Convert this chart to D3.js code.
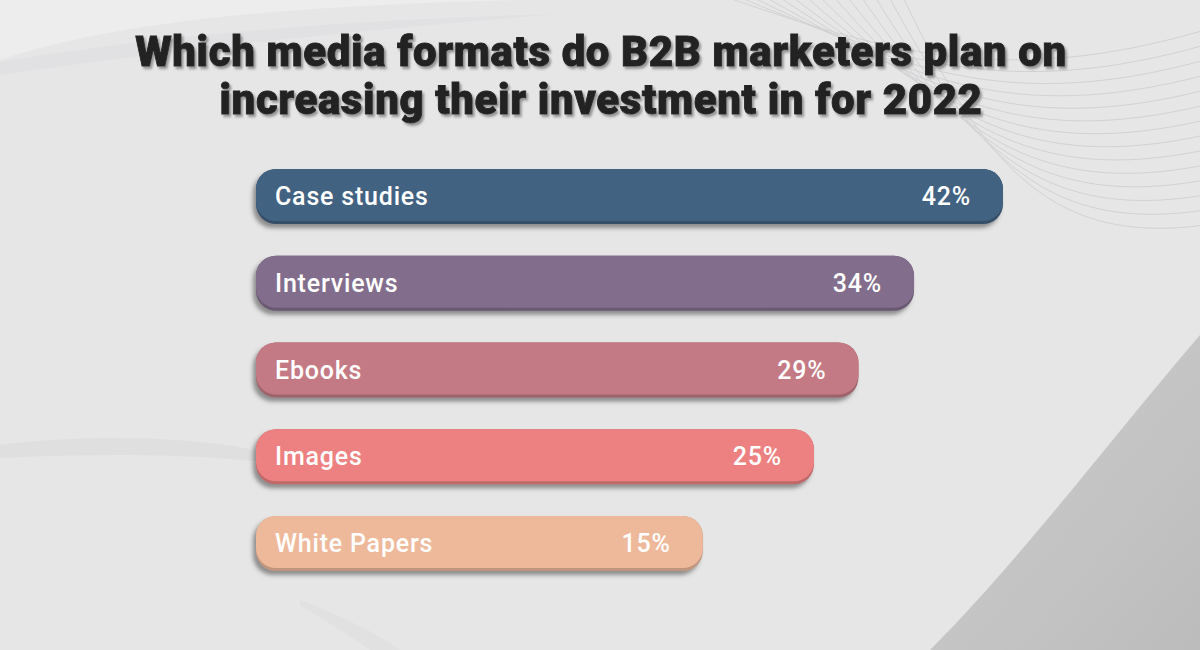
<!DOCTYPE html>
<html>
<head>
<meta charset="utf-8">
<script src="https://cdn.jsdelivr.net/npm/d3@7"></script>
<style>
html,body{margin:0;padding:0;background:#e7e6e7;}
svg{display:block;}
</style>
</head>
<body>
<svg id="chart" width="1200" height="650"></svg>
<script>
const categories = ["Case studies", "Interviews", "Ebooks", "Images", "White Papers"];
const values = [42, 34, 29, 25, 15];
const colors = ["#426282", "#826e8c", "#c47a84", "#ed8080", "#eeb99b"];
const titleLines = ["Which media formats do B2B marketers plan on", "increasing their investment in for 2022"];

const W = 1200, H = 650;
const svg = d3.select("#chart");
const defs = svg.append("defs");

// filters
const fb = defs.append("filter").attr("id","barShadow").attr("x","-10%").attr("y","-30%").attr("width","120%").attr("height","170%");
fb.append("feDropShadow").attr("dx",-3).attr("dy",4).attr("stdDeviation",2).attr("flood-color","#444").attr("flood-opacity",0.55);
const ft = defs.append("filter").attr("id","titleShadow").attr("x","-5%").attr("y","-30%").attr("width","110%").attr("height","160%");
ft.append("feDropShadow").attr("dx",2).attr("dy",2.5).attr("stdDeviation",1.2).attr("flood-color","#8a8a8a").attr("flood-opacity",0.9);

// background
svg.append("rect").attr("width",W).attr("height",H).attr("fill","#e7e6e7");
const grad = defs.append("linearGradient").attr("id","brg").attr("x1","0").attr("y1","0").attr("x2","1").attr("y2","1");
grad.append("stop").attr("offset","0").attr("stop-color","#cfcecf");
grad.append("stop").attr("offset","1").attr("stop-color","#bdbcbd");
svg.append("path")
  .attr("d","M1200,335 C1110,440 1020,560 930,650 L1200,650 Z")
  .attr("fill","url(#brg)");
// top-left lighter swooshes
svg.append("path").attr("d","M0,60 C120,20 300,5 520,0 L0,0 Z").attr("fill","#ededed");
svg.append("path").attr("d","M0,62 C160,35 340,20 560,14 C360,30 170,50 0,75 Z").attr("fill","#dedddf").attr("opacity",0.7);
// faint bottom-left swoosh
svg.append("path").attr("d","M0,445 C120,430 260,440 320,470 C240,455 120,452 0,458 Z").attr("fill","#dcdbdc").attr("opacity",0.7);
svg.append("path").attr("d","M300,600 C340,615 380,635 400,650 L370,650 C350,635 320,618 300,605 Z").attr("fill","#dedddf").attr("opacity",0.6);
// top-right thin curved lines
const lines = svg.append("g").attr("fill","none").attr("stroke","#d2d1d3").attr("stroke-width",1);
for (let i = 0; i < 14; i++) {
  lines.append("path").attr("d",
    `M${720 + i*14},-5 C${880 + i*8},${50 + i*9} ${1000 + i*4},${90 + i*12} 1205,${30 + i*15}`);
}

// scales
const x0 = 256;
const x = d3.scaleLinear().domain([0, 42]).range([536, 1003]);
const y = d3.scalePoint().domain(categories).range([169, 516]);
const bh = 55;

const data = categories.map((c, i) => ({cat: c, v: values[i], col: colors[i]}));

const g = svg.append("g");
const bars = g.selectAll("g.bar").data(data).join("g").attr("class","bar");

bars.append("rect")
  .attr("x", x0).attr("y", d => y(d.cat))
  .attr("width", d => x(d.v) - x0).attr("height", bh)
  .attr("rx", 20).attr("ry", 20)
  .attr("fill", d => d3.color(d.col).darker(0.6))
  .attr("filter","url(#barShadow)");
bars.append("rect")
  .attr("x", x0).attr("y", d => y(d.cat))
  .attr("width", d => x(d.v) - x0).attr("height", bh - 3)
  .attr("rx", 20).attr("ry", 20)
  .attr("fill", d => d.col);

bars.append("text")
  .attr("x", x0 + 19).attr("y", d => y(d.cat) + bh/2 + 2)
  .attr("dominant-baseline","middle")
  .attr("fill","#fff").attr("font-family","Roboto, sans-serif").attr("font-weight",500).attr("font-size",25)
  .attr("letter-spacing",0.8)
  .text(d => d.cat);
bars.append("text")
  .attr("x", d => x(d.v) - 32).attr("y", d => y(d.cat) + bh/2 + 2)
  .attr("dominant-baseline","middle").attr("text-anchor","end")
  .attr("fill","#fff").attr("font-family","Roboto, sans-serif").attr("font-weight",500).attr("font-size",25)
  .attr("letter-spacing",0.8)
  .text(d => d.v + "%");

// title
svg.append("g").attr("filter","url(#titleShadow)")
  .selectAll("text").data(titleLines).join("text")
  .attr("x", 601).attr("y", (d, i) => 66 + i * 48)
  .attr("text-anchor","middle")
  .attr("font-family","Roboto, sans-serif").attr("font-weight",900).attr("font-size",42)
  .attr("letter-spacing",0.6)
  .attr("fill","#232323").attr("stroke","#232323").attr("stroke-width",0.9)
  .text(d => d);
</script>
</body>
</html>
